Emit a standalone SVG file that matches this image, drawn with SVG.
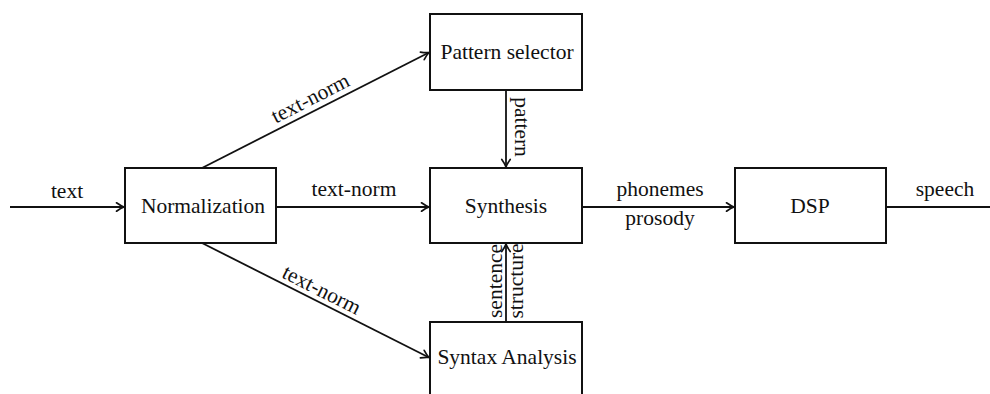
<svg xmlns="http://www.w3.org/2000/svg" width="990" height="394" viewBox="0 0 990 394">
  <style>
    .box { fill: #fff; stroke: #111; stroke-width: 2; }
    .t { font-family: "Liberation Serif", "Times New Roman", serif; font-size: 21.5px; fill: #111; text-anchor: middle; }
    .edge { fill: none; stroke: #111; stroke-width: 1.8; }
  </style>
  <defs>
    <marker id="arr" viewBox="-10 -6 12 12" refX="0" refY="0" markerWidth="12" markerHeight="12" orient="auto" markerUnits="userSpaceOnUse">
      <path d="M-7.5,-4.2 Q-3,-1 0,0 Q-3,1 -7.5,4.2" fill="none" stroke="#111" stroke-width="1.7" stroke-linecap="round" stroke-linejoin="round"/>
    </marker>
  </defs>
  <rect width="990" height="394" fill="#fff"/>
  <g id="connectors">
    <line class="edge" x1="10" y1="207" x2="124" y2="207" marker-end="url(#arr)"/>
    <text class="t" x="67" y="198">text</text>
    <line class="edge" x1="202" y1="168" x2="429" y2="52.5" marker-end="url(#arr)"/>
    <text class="t" transform="translate(313.5,104.5) rotate(-27)">text-norm</text>
    <line class="edge" x1="276" y1="207" x2="429" y2="207" marker-end="url(#arr)"/>
    <text class="t" x="354" y="196">text-norm</text>
    <line class="edge" x1="202" y1="243" x2="429" y2="357.5" marker-end="url(#arr)"/>
    <text class="t" transform="translate(318.5,296) rotate(26.8)">text-norm</text>
    <line class="edge" x1="506" y1="90" x2="506" y2="167" marker-end="url(#arr)"/>
    <text class="t" transform="translate(515,127) rotate(90)">pattern</text>
    <line class="edge" x1="506" y1="322" x2="506" y2="244" marker-end="url(#arr)"/>
    <text class="t" transform="translate(501.5,281) rotate(-90)">sentence</text>
    <text class="t" transform="translate(522.5,281) rotate(-90)">structure</text>
    <line class="edge" x1="582" y1="207" x2="734" y2="207" marker-end="url(#arr)"/>
    <text class="t" x="660" y="196">phonemes</text>
    <text class="t" x="660" y="225">prosody</text>
    <line class="edge" x1="886" y1="207" x2="990" y2="207"/>
    <text class="t" x="945" y="196">speech</text>
  </g>
  <g id="normalization">
    <rect class="box" x="125" y="168" width="151" height="75"/>
    <text class="t" x="203" y="213">Normalization</text>
  </g>
  <g id="pattern-selector">
    <rect class="box" x="430" y="14" width="152" height="76"/>
    <text class="t" x="507" y="59">Pattern selector</text>
  </g>
  <g id="synthesis">
    <rect class="box" x="430" y="168" width="152" height="75"/>
    <text class="t" x="506" y="213">Synthesis</text>
  </g>
  <g id="syntax-analysis">
    <rect class="box" x="430" y="322" width="152" height="76"/>
    <text class="t" x="507" y="364">Syntax Analysis</text>
  </g>
  <g id="dsp">
    <rect class="box" x="735" y="168" width="151" height="75"/>
    <text class="t" x="810" y="213">DSP</text>
  </g>
</svg>
